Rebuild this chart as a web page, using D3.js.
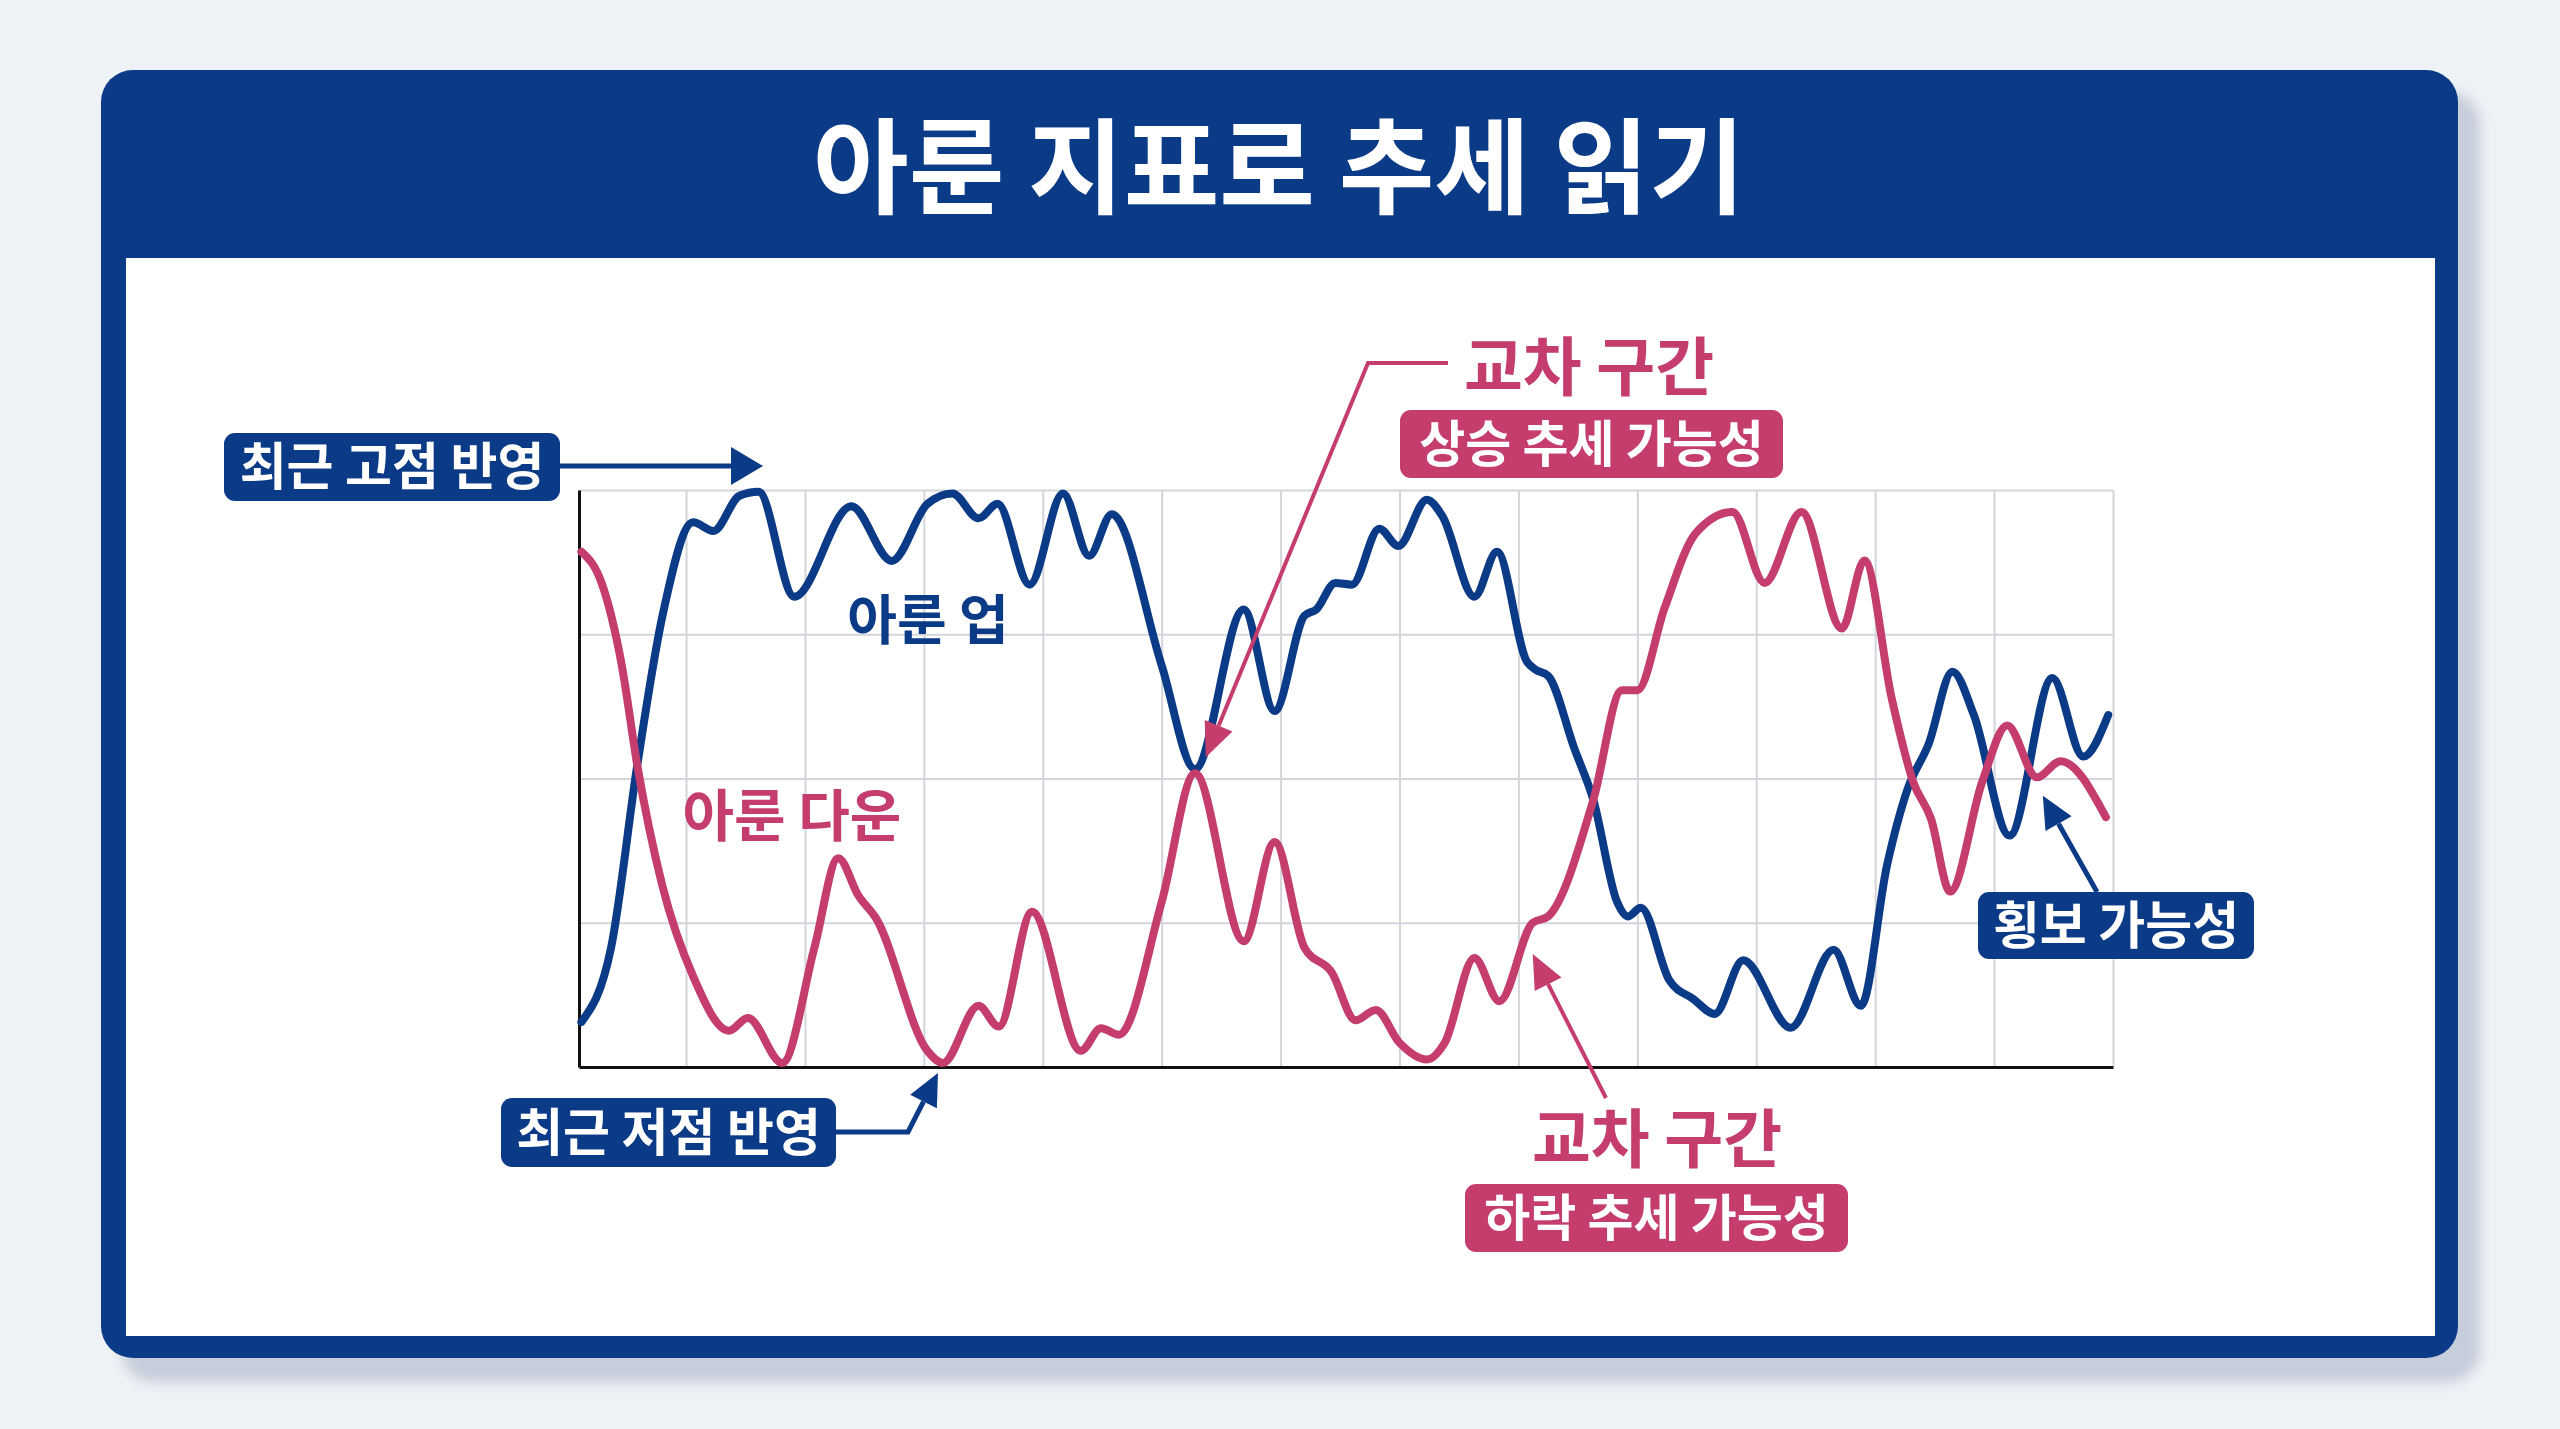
<!DOCTYPE html>
<html>
<head>
<meta charset="utf-8">
<script src="https://cdn.jsdelivr.net/npm/d3@7"></script>
<style>
  body { margin: 0; background: #eef1f5; }
  svg { display: block; }
  text { font-family: "Noto Sans CJK KR", "Noto Sans", sans-serif; font-weight: 700; }
</style>
</head>
<body>
<svg id="chart" width="2560" height="1429"></svg>
<script>
// ---- data ----
const title = '아룬 지표로 추세 읽기';
const seriesNames = ['아룬 업', '아룬 다운'];

// Aroon Up: day index and value (0-100)
const upDays = [-8.8, -6.3, -4.1, -2, 0.6, 2.3, 4.5, 6.1, 9.1, 13.9, 17.3, 20.3, 22.4, 24.6, 26.2, 28.9,
  31.7, 33.9, 35.8, 40, 42.8, 46.9, 49.5, 52, 53, 54.6, 56, 58.3, 59.9, 62.3, 63.6, 66.3, 68.2, 70.7,
  71.4, 72.5, 74.7, 76.3, 78.3, 79.2, 80.3, 82.7, 84.7, 86.5, 88.9, 92.9, 96.5, 98.8, 101, 102.7,
  104.5, 106.5, 108.3, 111.3, 114.9, 117.5, 119.6];
const upValues = [7.8, 20.7, 52.3, 78, 94.4, 92.9, 99, 99.7, 81.5, 97.2, 87.7, 97.6, 99.4, 95.1, 97.6, 83.6,
  99.4, 88.6, 95.8, 69.6, 51.6, 79.3, 61.7, 78.2, 79.3, 83.9, 83.6, 93.3, 90.3, 98.3, 95.5, 81.5, 89.3, 70.3,
  68.9, 67.8, 55.2, 46.3, 28.6, 26.1, 27.6, 15, 11.8, 9.2, 18.5, 6.8, 20.3, 10.6, 35, 48,
  56, 68.5, 61, 40.1, 67.4, 53.8, 61];

// Aroon Down
const downDays = [-8.8, -7.1, -5.4, -4.1, -2, 0.6, 3.6, 5.2, 8.1, 10.8, 12.8, 14.5, 16, 20.3, 21.6, 24.6,
  26.3, 29.1, 33.2, 34.9, 36.4, 40, 42.8, 46.9, 49.5, 52, 54.3, 56.3, 58, 60, 62.3, 63.8, 66.3, 68.4,
  71.2, 72.5, 76.3, 78.7, 80, 82.3, 84.9, 88, 90.7, 93.8, 97.2, 99.1, 101.4, 103.2, 104.7, 106.3,
  109, 111.1, 113.6, 115.6, 119.4];
const downValues = [89.3, 83.9, 69.6, 52.3, 31.5, 15.7, 6.3, 8.5, 0.7, 20.7, 36.2, 29.7, 25.7, 2.8, 0.7, 10.6,
  7, 26.9, 2.8, 6.7, 5.6, 28.6, 50.9, 21.8, 39, 20.7, 16.4, 8.1, 9.9, 4.2, 1.3, 4.2, 18.9, 11.4,
  25, 26.1, 46.3, 65.3, 65.3, 79.6, 92.5, 96.2, 83.9, 96.2, 76, 87.8, 63.8, 49.4, 43, 30.4,
  49.4, 59.2, 50.2, 53, 43.3];

const gridDays = d3.range(0, 120, 10);
const gridValues = [25, 50, 75, 100];

// ---- look ----
const BLUE = '#0b3a86';
const PINK = '#c43d6d';
const W = 2560, H = 1429;
const plot = { left: 579, right: 2113, top: 490, bottom: 1067 };

const svg = d3.select('#chart');
const defs = svg.append('defs');
defs.append('filter').attr('id', 'blur').append('feGaussianBlur').attr('stdDeviation', 6);

// background + card
svg.append('rect').attr('width', W).attr('height', H).attr('fill', '#eef1f5');
svg.append('rect').attr('x', 122).attr('y', 92).attr('width', 2358).attr('height', 1290)
  .attr('rx', 32).attr('fill', '#c6cddb').attr('filter', 'url(#blur)');
svg.append('rect').attr('x', 101).attr('y', 70).attr('width', 2357).attr('height', 1288)
  .attr('rx', 32).attr('fill', BLUE);
svg.append('rect').attr('x', 126).attr('y', 258).attr('width', 2309).attr('height', 1078)
  .attr('fill', '#ffffff');

svg.append('text').attr('x', 1279).attr('y', 206).attr('text-anchor', 'middle')
  .attr('font-size', 104).attr('fill', '#fff').text(title);

// ---- scales ----
const x = d3.scaleLinear().domain([-9, 120]).range([plot.left, plot.right]);
const y = d3.scaleLinear().domain([0, 100]).range([plot.bottom, plot.top]);

// grid through axes
const gridX = svg.append('g').attr('transform', `translate(0,${plot.bottom})`)
  .call(d3.axisBottom(x).tickValues(gridDays.concat([120])).tickSize(-(plot.bottom - plot.top)).tickFormat(''));
const gridY = svg.append('g').attr('transform', `translate(${plot.left},0)`)
  .call(d3.axisLeft(y).tickValues(gridValues).tickSize(-(plot.right - plot.left)).tickFormat(''));
[gridX, gridY].forEach(g => {
  g.select('.domain').remove();
  g.selectAll('.tick line').attr('stroke', '#d3d5da').attr('stroke-width', 2);
});

// axis lines (left + bottom)
svg.append('g').attr('transform', `translate(${plot.left},0)`)
  .call(d3.axisLeft(y).tickValues([]).tickSizeOuter(0))
  .select('.domain').attr('stroke', '#111').attr('stroke-width', 3);
svg.append('g').attr('transform', `translate(0,${plot.bottom})`)
  .call(d3.axisBottom(x).tickValues([]).tickSizeOuter(0))
  .select('.domain').attr('stroke', '#111').attr('stroke-width', 3);

// ---- lines ----
const line = d3.line().x(d => x(d[0])).y(d => y(d[1])).curve(d3.curveMonotoneX);
const upData = d3.zip(upDays, upValues);
const downData = d3.zip(downDays, downValues);

svg.append('path').datum(upData).attr('d', line).attr('fill', 'none')
  .attr('stroke', BLUE).attr('stroke-width', 8).attr('stroke-linejoin', 'round').attr('stroke-linecap', 'round');
svg.append('path').datum(downData).attr('d', line).attr('fill', 'none')
  .attr('stroke', PINK).attr('stroke-width', 8).attr('stroke-linejoin', 'round').attr('stroke-linecap', 'round');

// series labels
svg.append('text').attr('x', 928).attr('y', 640).attr('text-anchor', 'middle')
  .attr('font-size', 54).attr('fill', BLUE).text(seriesNames[0]);
svg.append('text').attr('x', 792).attr('y', 836).attr('text-anchor', 'middle')
  .attr('font-size', 56).attr('fill', PINK).text(seriesNames[1]);

// ---- annotations ----
function arrow(pts, color, width, headLen, headW) {
  const n = pts.length;
  const [x1, y1] = pts[n - 2], [x2, y2] = pts[n - 1];
  const ang = Math.atan2(y2 - y1, x2 - x1);
  const bx = x2 - headLen * Math.cos(ang), by = y2 - headLen * Math.sin(ang);
  const line_pts = pts.slice(0, n - 1).concat([[bx, by]]);
  svg.append('path').attr('d', d3.line()(line_pts)).attr('fill', 'none')
    .attr('stroke', color).attr('stroke-width', width);
  const px = Math.sin(ang) * headW / 2, py = -Math.cos(ang) * headW / 2;
  svg.append('polygon')
    .attr('points', [[x2, y2], [bx + px, by + py], [bx - px, by - py]].map(p => p.join(',')).join(' '))
    .attr('fill', color);
}

function badge(x0, y0, w, h, color, label, size) {
  svg.append('rect').attr('x', x0).attr('y', y0).attr('width', w).attr('height', h)
    .attr('rx', 11).attr('fill', color);
  svg.append('text').attr('x', x0 + w / 2).attr('y', y0 + h / 2).attr('dy', '0.36em')
    .attr('text-anchor', 'middle').attr('font-size', size).attr('fill', '#fff').text(label);
}

// recent high
badge(224, 433, 336, 68, BLUE, '최근 고점 반영', 51);
arrow([[560, 466], [763, 466]], BLUE, 5, 32, 38);

// recent low
badge(501, 1098, 335, 69, BLUE, '최근 저점 반영', 51);
arrow([[836, 1132], [908, 1132], [938, 1073]], BLUE, 5, 32, 30);

// upper crossing
svg.append('text').attr('x', 1589).attr('y', 390).attr('text-anchor', 'middle')
  .attr('font-size', 64).attr('fill', PINK).text('교차 구간');
badge(1400, 410, 383, 68, PINK, '상승 추세 가능성', 50);
arrow([[1448, 363], [1368, 363], [x(43.7), y(53.7)]], PINK, 4, 34, 30);

// lower crossing
svg.append('text').attr('x', 1657).attr('y', 1162).attr('text-anchor', 'middle')
  .attr('font-size', 64).attr('fill', PINK).text('교차 구간');
badge(1465, 1184, 383, 68, PINK, '하락 추세 가능성', 50);
arrow([[1606, 1098], [x(71.2), y(19.6)]], PINK, 4, 34, 30);

// sideways
badge(1978, 892, 276, 67, BLUE, '횡보 가능성', 51);
arrow([[2097, 892], [x(114.1), y(47)]], BLUE, 5, 32, 30);
</script>
</body>
</html>
